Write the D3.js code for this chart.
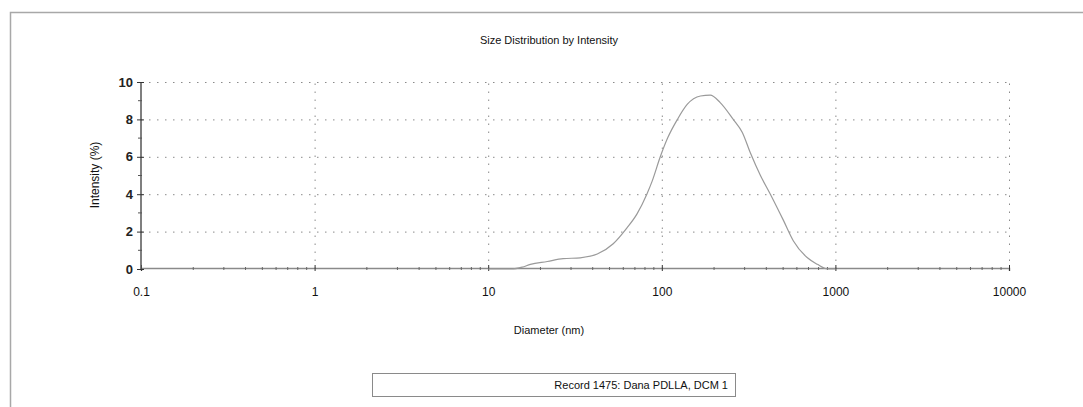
<!DOCTYPE html>
<html>
<head>
<meta charset="utf-8" />
<title>Size Distribution by Intensity</title>
<script src="https://d3js.org/d3.v7.min.js"></script>
<style>
  body { margin: 0; background: #fff; }
  text { font-family: "Liberation Sans", Arial, sans-serif; fill: #111; }
</style>
</head>
<body>
<svg id="viz"></svg>
<script>
// diameter (nm) and intensity (%)
var diameters = [10, 13.7, 15.7, 17.5, 21.9, 27, 33.9, 42.5, 52.5, 63, 72, 82, 88, 98, 108, 123, 140, 167, 190, 217, 258, 291, 324, 370, 422, 502, 573, 690, 787, 900, 1000];
var intensity = [0, 0, 0.1, 0.25, 0.4, 0.55, 0.6, 0.8, 1.35, 2.2, 2.95, 4.0, 4.7, 6.0, 7.0, 8.0, 8.8, 9.25, 9.3, 8.9, 8.0, 7.3, 6.2, 5.0, 4.0, 2.6, 1.5, 0.6, 0.25, 0, 0];
var xTicks = [0.1, 1, 10, 100, 1000, 10000];
var xTickLabels = ["0.1", "1", "10", "100", "1000", "10000"];
var yTicks = [0, 2, 4, 6, 8, 10];
var yMinor = [1, 3, 5, 7, 9];
var chartTitle = "Size Distribution by Intensity";
var legendText = "Record 1475: Dana PDLLA, DCM 1";

var W = 1083, H = 407;
var svg = d3.select("#viz").attr("width", W).attr("height", H);

// outer frame
svg.append("path")
  .attr("d", "M10.5," + H + " L10.5,12.5 L" + W + ",12.5")
  .attr("fill", "none").attr("stroke", "#a8a8a8").attr("stroke-width", 1.5);

var xScale = d3.scaleLog().domain([0.1, 10000]).range([141, 1009]);
var yScale = d3.scaleLinear().domain([0, 10]).range([269, 82]);

// grid
svg.append("g").selectAll("line").data(yTicks.filter(function(d){ return d > 0; }))
  .enter().append("line")
  .attr("x1", xScale(0.1)).attr("x2", xScale(10000))
  .attr("y1", function(d){ return yScale(d) + 0.5; })
  .attr("y2", function(d){ return yScale(d) + 0.5; })
  .attr("stroke", "#8a8a8a").attr("stroke-dasharray", "1.5,6.5");

svg.append("g").selectAll("line").data(xTicks.slice(1))
  .enter().append("line")
  .attr("x1", function(d){ return xScale(d) + 0.5; })
  .attr("x2", function(d){ return xScale(d) + 0.5; })
  .attr("y1", yScale(0)).attr("y2", yScale(10))
  .attr("stroke", "#8a8a8a").attr("stroke-dasharray", "1.5,6.5");

// x axis
var minorX = [];
[0.1, 1, 10, 100, 1000].forEach(function(b){
  for (var k = 2; k <= 9; k++) minorX.push(b * k);
});
var xAxis = d3.axisBottom(xScale).tickValues(xTicks)
  .tickFormat(function(d, i){ return xTickLabels[i]; })
  .tickSize(3).tickPadding(16);
var gx = svg.append("g").attr("transform", "translate(0," + (yScale(0) - 1) + ")").call(xAxis);
gx.select(".domain").attr("stroke", "#8a8a8a").attr("stroke-width", 1.5);
gx.selectAll(".tick line").attr("y1", -3).attr("y2", 3).attr("stroke", "#333");
gx.selectAll("text").style("font-size", "12px").style("fill", "#111");
svg.append("g").selectAll("line").data(minorX).enter().append("line")
  .attr("x1", function(d){ return xScale(d); }).attr("x2", function(d){ return xScale(d); })
  .attr("y1", yScale(0) - 2).attr("y2", yScale(0) + 1)
  .attr("stroke", "#666");

// y axis
var yAxis = d3.axisLeft(yScale).tickValues(yTicks).tickSize(4).tickPadding(4);
var gy = svg.append("g").attr("transform", "translate(" + xScale(0.1) + ",0)").call(yAxis);
gy.select(".domain").attr("stroke", "#555").attr("stroke-width", 1.5).attr("d", "M0," + yScale(10) + "V" + yScale(0));
gy.selectAll(".tick line").attr("x1", -4).attr("x2", 3).attr("stroke", "#333");
gy.selectAll("text").style("font-size", "13px").style("font-weight", "bold").style("fill", "#222");
svg.append("g").selectAll("line").data(yMinor).enter().append("line")
  .attr("x1", xScale(0.1) - 3).attr("x2", xScale(0.1) + 1)
  .attr("y1", function(d){ return yScale(d); }).attr("y2", function(d){ return yScale(d); })
  .attr("stroke", "#555");

// curve
var line = d3.line()
  .x(function(d){ return xScale(d[0]); })
  .y(function(d){ return yScale(d[1]); })
  .curve(d3.curveMonotoneX);
svg.append("path")
  .datum(d3.zip(diameters, intensity))
  .attr("d", line)
  .attr("fill", "none").attr("stroke", "#9a9a9a").attr("stroke-width", 1.2);

// titles
svg.append("text").attr("x", 549).attr("y", 44).attr("text-anchor", "middle")
  .style("font-size", "11px").text(chartTitle);
svg.append("text").attr("x", 549).attr("y", 334).attr("text-anchor", "middle")
  .style("font-size", "11px").text("Diameter (nm)");
svg.append("text").attr("transform", "translate(99,175) rotate(-90)")
  .attr("text-anchor", "middle").style("font-size", "12px").text("Intensity (%)");

// legend
svg.append("rect").attr("x", 372.5).attr("y", 373.5).attr("width", 363).attr("height", 23)
  .attr("fill", "#fff").attr("stroke", "#8a8a8a");
svg.append("text").attr("x", 728).attr("y", 389).attr("text-anchor", "end")
  .style("font-size", "11px").text(legendText);
</script>
</body>
</html>
